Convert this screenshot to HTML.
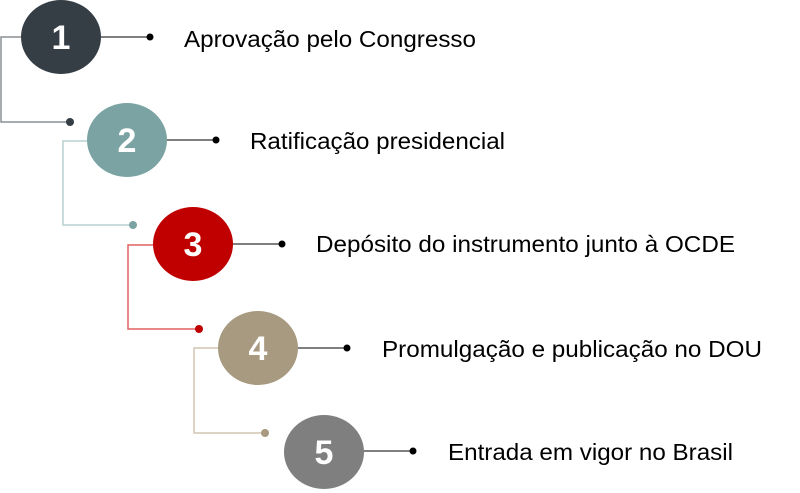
<!DOCTYPE html>
<html><head><meta charset="utf-8"><style>
html,body{margin:0;padding:0;background:#fff;width:800px;height:493px;overflow:hidden}
text{font-family:"Liberation Sans",sans-serif}
</style></head><body>
<svg width="800" height="493" viewBox="0 0 800 493" xmlns="http://www.w3.org/2000/svg">
<polyline points="21,37 1,37 1,122 70,122" fill="none" stroke="#8a8f94" stroke-width="1.5"/>
<circle cx="70" cy="122" r="4" fill="#353d45"/>
<polyline points="87,141 63,141 63,225 133,225" fill="none" stroke="#b9d0d0" stroke-width="1.5"/>
<circle cx="133" cy="225" r="4" fill="#7ba3a3"/>
<polyline points="153,245 128,245 128,329 199,329" fill="none" stroke="#e06060" stroke-width="1.5"/>
<circle cx="199" cy="329" r="4" fill="#c00000"/>
<polyline points="218,348 194,348 194,433 265,433" fill="none" stroke="#d3c6b4" stroke-width="1.5"/>
<circle cx="265" cy="433" r="4" fill="#a89a80"/>
<g stroke="#555" stroke-width="1.5">
<line x1="101" y1="37" x2="150" y2="37"/>
<line x1="167" y1="140" x2="216" y2="140"/>
<line x1="232" y1="244" x2="282" y2="244"/>
<line x1="297" y1="348" x2="347" y2="348"/>
<line x1="363" y1="451" x2="413" y2="451"/>
</g>
<g fill="#000">
<circle cx="150" cy="37" r="3.5"/><circle cx="216" cy="140" r="3.5"/><circle cx="282" cy="244" r="3.5"/><circle cx="347" cy="348" r="3.5"/><circle cx="413" cy="451" r="3.5"/>
</g>
<ellipse cx="61" cy="37" rx="40" ry="37" fill="#353d45"/>
<ellipse cx="127" cy="140" rx="40" ry="37" fill="#7ba3a3"/>
<ellipse cx="193" cy="244" rx="40" ry="37" fill="#c00000"/>
<ellipse cx="258" cy="348" rx="40" ry="37" fill="#a89a80"/>
<ellipse cx="324" cy="452" rx="40" ry="37" fill="#7f7f7f"/>
<g fill="#fff" font-size="34" font-weight="bold" text-anchor="middle">
<text x="61" y="49">1</text><text x="127" y="152">2</text><text x="193" y="256">3</text><text x="258" y="360">4</text><text x="324" y="464">5</text>
</g>
<g fill="#000" font-size="23.5">
<text x="184" y="47" textLength="292" lengthAdjust="spacingAndGlyphs">Aprovação pelo Congresso</text>
<text x="250" y="149" textLength="255" lengthAdjust="spacingAndGlyphs">Ratificação presidencial</text>
<text x="316" y="252" textLength="419" lengthAdjust="spacingAndGlyphs">Depósito do instrumento junto à OCDE</text>
<text x="382" y="357" textLength="380" lengthAdjust="spacingAndGlyphs">Promulgação e publicação no DOU</text>
<text x="448" y="460" textLength="285" lengthAdjust="spacingAndGlyphs">Entrada em vigor no Brasil</text>
</g>
</svg>
</body></html>
